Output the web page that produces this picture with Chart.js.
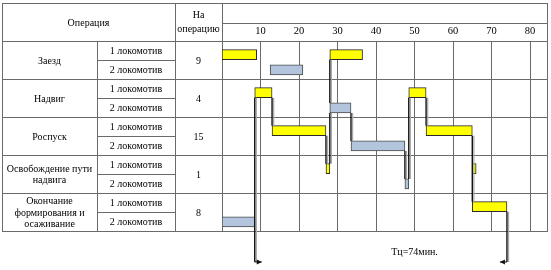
<!DOCTYPE html>
<html><head><meta charset="utf-8">
<script src="https://cdn.jsdelivr.net/npm/chart.js@4/dist/chart.umd.min.js"></script>
<style>html,body{margin:0;padding:0;background:#fff;}#wrap{width:551px;height:270px;position:relative}</style>
</head><body><div id="wrap"><canvas id="c" width="551" height="270"></canvas></div>
<script>
// ---- data ----
const headerOperation = 'Операция';
const headerDuration = ['На', 'операцию'];
const operations = [['Заезд'], ['Надвиг'], ['Роспуск'], ['Освобождение пути', 'надвига'], ['Окончание', 'формирования и', 'осаживание']];
const locomotives = ['1 локомотив', '2 локомотив'];
const durations = [9, 4, 15, 1, 8];
const timeTicks = [10, 20, 30, 40, 50, 60, 70, 80];
// locomotive 1 (yellow) bars: operation index, start, end (min)
const loco1Op = [0, 0, 1, 1, 2, 2, 3, 3, 4];
const loco1Start = [0, 28, 8.5, 48.5, 13, 53, 27, 65, 65];
const loco1End = [9, 36.5, 13, 53, 27, 65, 28, 66, 74];
// locomotive 2 (blue) bars
const loco2Op = [0, 1, 2, 3, 4];
const loco2Start = [12.5, 28, 33.5, 47.5, 0];
const loco2End = [21, 33.5, 47.5, 48.5, 8.5];
// connector lines: time, from sub-row, to sub-row (-1 = cycle arrow)
const linkX = [8.5, 13, 28, 28, 27, 33.5, 48.5, 53, 47.5, 65, 74];
const linkFrom = [2, 2, 0, 3, 4, 3, 2, 2, 5, 4, 8];
const linkTo = [-1, 4, 3, 6, 6, 5, 7, 4, 7, 8, -1];
const cycleLabel = 'Тц=74мин.';
const cycleLabelAt = 50;

// ---- build ----
const subRowOffset = r => r + (r % 2 === 0 ? 0.72 : 0.52);
const barData = [], barColors = [], barBorders = [];
loco1Op.forEach((op, i) => { barData.push({ x: [loco1Start[i], loco1End[i]], y: subRowOffset(op * 2) }); barColors.push('#ffff00'); barBorders.push('#2a2a2a'); });
loco2Op.forEach((op, i) => { barData.push({ x: [loco2Start[i], loco2End[i]], y: subRowOffset(op * 2 + 1) }); barColors.push('#b3c5dd'); barBorders.push('#4a4a4a'); });

const SERIF = '"Liberation Serif", "Times New Roman", serif';
const LINE = '#6a6a6a';
const BAR_H = 10;

function hLine(ctx, x1, x2, y) { ctx.beginPath(); ctx.moveTo(x1, Math.round(y) + 0.5); ctx.lineTo(x2, Math.round(y) + 0.5); ctx.stroke(); }
function vLine(ctx, x, y1, y2) { ctx.beginPath(); ctx.moveTo(Math.round(x) + 0.5, y1); ctx.lineTo(Math.round(x) + 0.5, y2); ctx.stroke(); }

const tablePlugin = {
  id: 'table',
  beforeDatasetsDraw(chart) {
    const ctx = chart.ctx, ys = chart.scales.y, ca = chart.chartArea;
    const L = 2, C1 = 97, C2 = 175, C3 = Math.round(ca.left), R = Math.round(ca.right), T = 3, HM = 23, HB = Math.round(ca.top), B = Math.round(ca.bottom);
    ctx.save();
    ctx.strokeStyle = LINE; ctx.lineWidth = 1;
    hLine(ctx, L, R + 1, T); hLine(ctx, C3, R, HM); hLine(ctx, L, R + 1, HB); hLine(ctx, L, R + 1, B);
    for (let g = 1; g < operations.length; g++) hLine(ctx, L, R + 1, ys.getPixelForValue(g * 2));
    for (let g = 0; g < operations.length; g++) hLine(ctx, C1, C2, ys.getPixelForValue(g * 2 + 1));
    vLine(ctx, L, T, B + 1); vLine(ctx, C1, HB, B); vLine(ctx, C2, T, B); vLine(ctx, C3, T, B); vLine(ctx, R, T, B + 1);
    ctx.fillStyle = '#000'; ctx.font = '10px ' + SERIF; ctx.textAlign = 'center'; ctx.textBaseline = 'middle';
    ctx.fillText(headerOperation, (L + C2) / 2, 23);
    ctx.fillText(headerDuration[0], (C2 + C3) / 2, 15.5);
    ctx.fillText(headerDuration[1], (C2 + C3) / 2, 29);
    operations.forEach((lines, g) => {
      const y0 = ys.getPixelForValue(g * 2), y1 = ys.getPixelForValue(g * 2 + 2), yc = (y0 + y1) / 2;
      lines.forEach((t, i) => ctx.fillText(t, (L + C1) / 2, yc + 1 + (i - (lines.length - 1) / 2) * 11.5));
      ctx.fillText(String(durations[g]), (C2 + C3) / 2, yc + 1);
      locomotives.forEach((t, k) => {
        const a = ys.getPixelForValue(g * 2 + k), b = ys.getPixelForValue(g * 2 + k + 1);
        ctx.fillText(t, (C1 + C2) / 2, (a + b) / 2 + 0.5);
      });
    });
    ctx.restore();
  }
};

const linkPlugin = {
  id: 'links',
  afterDatasetsDraw(chart) {
    const ctx = chart.ctx, xs = chart.scales.x, ys = chart.scales.y;
    const arrowY = ys.getPixelForValue(11.63);
    const barTop = r => ys.getPixelForValue(subRowOffset(r)) - BAR_H / 2;
    const barBot = r => ys.getPixelForValue(subRowOffset(r)) + BAR_H / 2;
    ctx.save();
    linkX.forEach((t, i) => {
      const x = xs.getPixelForValue(t);
      const y1 = barBot(linkFrom[i]);
      const y2 = linkTo[i] < 0 ? arrowY : barTop(linkTo[i]);
      ctx.strokeStyle = '#a8a8a8'; ctx.lineWidth = 1.2;
      ctx.beginPath(); ctx.moveTo(x + 1.6, y1); ctx.lineTo(x + 1.6, y2); ctx.stroke();
      ctx.strokeStyle = '#111'; ctx.lineWidth = 1.4;
      ctx.beginPath(); ctx.moveTo(x, y1); ctx.lineTo(x, y2); ctx.stroke();
      if (linkTo[i] < 0) {
        const dir = i === 0 ? 1 : -1;
        const tip = x + dir * 7;
        ctx.lineWidth = 1;
        ctx.beginPath(); ctx.moveTo(x, arrowY); ctx.lineTo(tip, arrowY); ctx.stroke();
        ctx.fillStyle = '#111';
        ctx.beginPath(); ctx.moveTo(tip, arrowY); ctx.lineTo(tip - dir * 5, arrowY - 2.5); ctx.lineTo(tip - dir * 5, arrowY + 2.5); ctx.closePath(); ctx.fill();
      }
    });
    ctx.fillStyle = '#000'; ctx.font = '10px ' + SERIF; ctx.textAlign = 'center'; ctx.textBaseline = 'middle';
    ctx.fillText(cycleLabel, xs.getPixelForValue(cycleLabelAt), ys.getPixelForValue(11.1));
    ctx.restore();
  }
};

new Chart(document.getElementById('c'), {
  type: 'bar',
  data: { datasets: [{ data: barData, backgroundColor: barColors, borderColor: barBorders, borderWidth: 1, borderSkipped: false, barThickness: BAR_H }] },
  options: {
    indexAxis: 'y', responsive: false, animation: false, devicePixelRatio: 1,
    layout: { padding: { left: 222, right: 4, top: 23, bottom: 39 } },
    plugins: { legend: { display: false }, tooltip: { enabled: false } },
    scales: {
      x: {
        type: 'linear', position: 'top', min: 0, max: 84.4, offset: false,
        afterBuildTicks: s => { s.ticks = timeTicks.map(v => ({ value: v })); },
        afterFit: s => { s.height = 18; },
        ticks: { autoSkip: false, maxRotation: 0, padding: 3, color: '#000', font: { family: SERIF, size: 10.5 } },
        grid: { color: LINE, lineWidth: 1, drawTicks: false, offset: false },
        border: { display: false }
      },
      y: { type: 'linear', min: 0, max: 10, reverse: true, display: false, offset: false, grid: { offset: false } }
    }
  },
  plugins: [tablePlugin, linkPlugin]
});
</script></body></html>
